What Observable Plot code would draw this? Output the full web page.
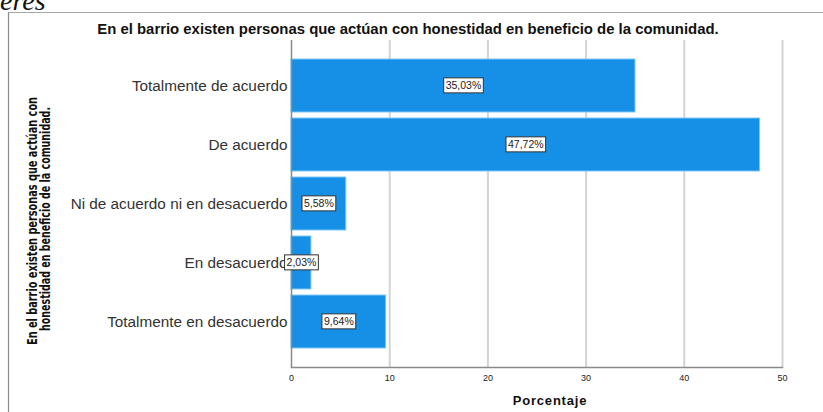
<!DOCTYPE html>
<html><head><meta charset="utf-8">
<script src="https://cdn.jsdelivr.net/npm/d3@7"></script>
<script src="https://cdn.jsdelivr.net/npm/@observablehq/plot@0.6"></script>
<style>
body{margin:0;background:#fff;}
#chart{position:relative;width:823px;height:412px;overflow:hidden;}
</style></head><body><div id="chart"></div>
<script>
const title = "En el barrio existen personas que actúan con honestidad en beneficio de la comunidad.";
const yTitleLines = ["En el barrio existen personas que actúan con", "honestidad en beneficio de la comunidad."];
const xTitle = "Porcentaje";
const pageFragment = "eres";
const categories = ["Totalmente de acuerdo", "De acuerdo", "Ni de acuerdo ni en desacuerdo", "En desacuerdo", "Totalmente en desacuerdo"];
const percentages = [35.03, 47.72, 5.58, 2.03, 9.64];
const xTicks = [0, 10, 20, 30, 40, 50];

const fmt = v => v.toFixed(2).replace(".", ",") + "%";
const data = categories.map((c, i) => ({category: c, value: percentages[i], label: fmt(percentages[i])}));

const plot = Plot.plot({
  width: 823, height: 412,
  marginLeft: 291, marginRight: 41, marginTop: 40, marginBottom: 45,
  style: {fontFamily: "'Liberation Sans', Arial, sans-serif", background: "#fff", overflow: "visible"},
  x: {domain: [0, 50], ticks: xTicks},
  y: {domain: categories, paddingInner: 0.11, paddingOuter: 0.326},
  marks: [
    Plot.gridX(xTicks.slice(1), {stroke: "#d3d3d3", strokeWidth: 2, strokeOpacity: 1}),
    Plot.barX(data, {x: "value", y: "category", fill: "#1590E6", stroke: "#7ec8f6", strokeWidth: 1}),
    Plot.ruleX([0], {stroke: "#8a8a8a", strokeWidth: 1.5}),
    Plot.frame({anchor: "bottom", stroke: "#8a8a8a", strokeWidth: 1.5}),
    Plot.axisX(xTicks, {tickSize: 0, tickPadding: 7, fontSize: 9, fill: "#222", label: null}),
    Plot.axisY({tickSize: 0, tickPadding: 4, fontSize: 15.3, fill: "#333", label: null}),
    Plot.text(data, {x: d => d.value / 2, y: "category", text: "label", fontSize: 10.5, fill: "#222"})
  ]
});
document.getElementById("chart").appendChild(plot);

const svg = d3.select(plot);
// value label boxes
svg.selectAll('g[aria-label="text"] text').each(function() {
  const b = this.getBBox();
  const t = this.getAttribute("transform");
  const r = d3.select(this.parentNode).insert("rect", () => this)
    .attr("x", b.x - 2).attr("y", b.y - 1.5)
    .attr("width", b.width + 4).attr("height", b.height + 3)
    .attr("fill", "#fff").attr("stroke", "#333").attr("stroke-width", 1);
  if (t) r.attr("transform", t);
});
// outer frame
svg.append("line").attr("x1", 8).attr("y1", 12.5).attr("x2", 823).attr("y2", 12.5).attr("stroke", "#a8a8a8").attr("stroke-width", 1.2);
svg.append("line").attr("x1", 8.5).attr("y1", 12).attr("x2", 8.5).attr("y2", 412).attr("stroke", "#8c8c8c").attr("stroke-width", 1.2);
// page fragment (cut off at the top, as in the source page)
svg.append("text").attr("x", 0).attr("y", 10).attr("text-anchor", "start").attr("font-family", "'Liberation Serif', serif")
  .attr("font-style", "italic").attr("font-size", 28).attr("fill", "#111").text(pageFragment);
// title
svg.append("text").attr("x", 408).attr("y", 34).attr("text-anchor", "middle")
  .style("font", "bold 14.9px 'Liberation Sans', Arial, sans-serif").attr("fill", "#111").text(title);
// x title
svg.append("text").attr("x", 550).attr("y", 405).attr("text-anchor", "middle")
  .style("font", "bold 13px 'Liberation Sans', Arial, sans-serif").style("letter-spacing", "0.8px").attr("fill", "#111").text(xTitle);
// y title
const yl = svg.append("g");
[[37, 221, 248], [50, 219, 224]].forEach(([x, y, len], i) => {
  yl.append("text").attr("transform", `translate(${x},${y}) rotate(-90)`).attr("text-anchor", "middle")
    .attr("textLength", len).attr("lengthAdjust", "spacingAndGlyphs")
    .style("font", "bold 14px 'Liberation Sans Narrow', 'DejaVu Sans Condensed', sans-serif").attr("fill", "#111")
    .text(yTitleLines[i]);
});
</script></body></html>
